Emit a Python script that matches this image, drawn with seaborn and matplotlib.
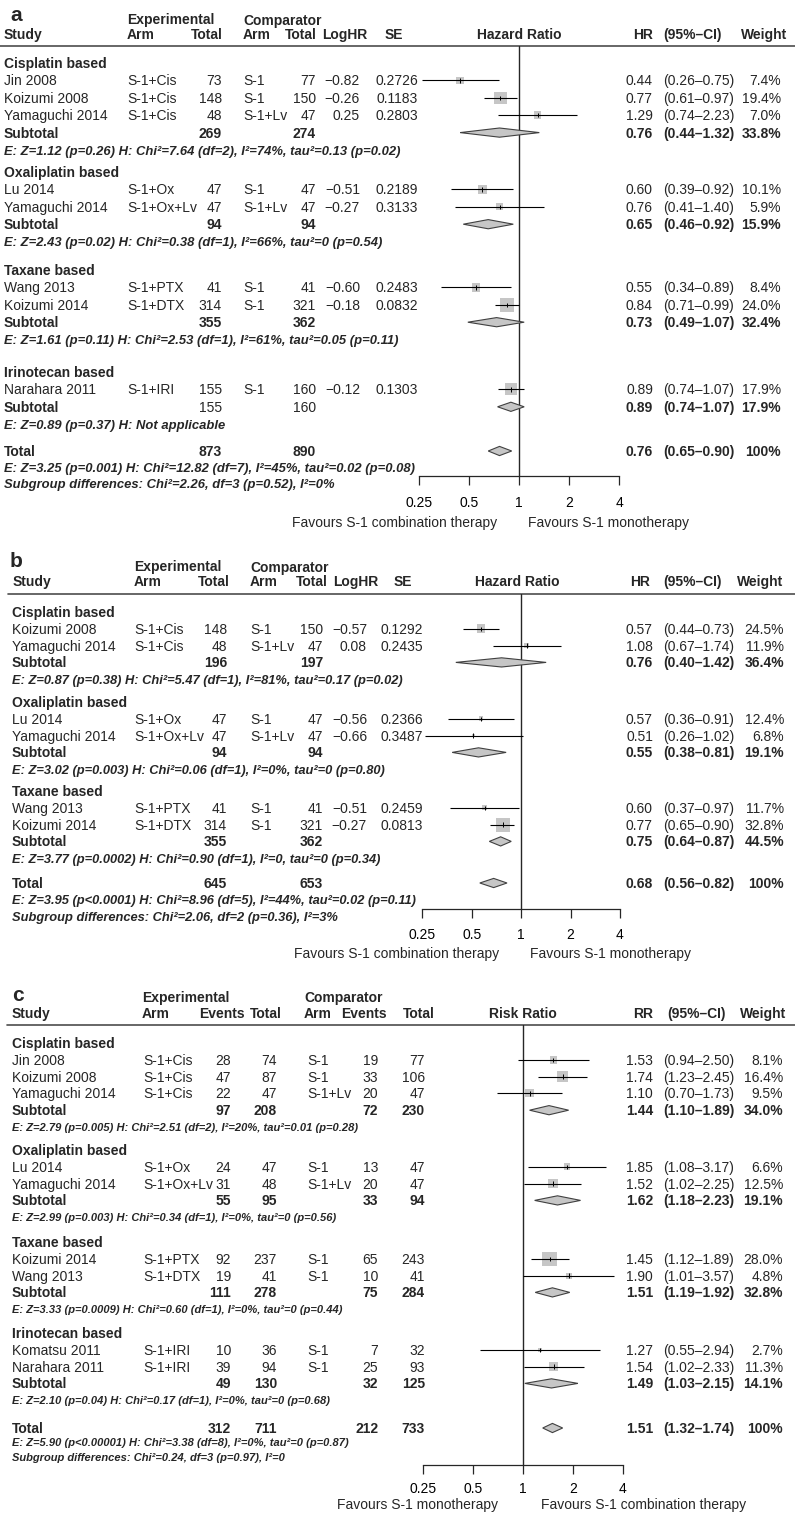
import numpy as np
import pandas as pd
import matplotlib
matplotlib.use("Agg")
import matplotlib.pyplot as plt
from matplotlib.ticker import NullLocator
import seaborn as sns

# ---------------- panel a : hazard ratio ----------------
a_groups = ["Cisplatin based", "Oxaliplatin based", "Taxane based", "Irinotecan based"]
a_group_n = [3, 2, 2, 1]
a_study = ["Jin 2008", "Koizumi 2008", "Yamaguchi 2014", "Lu 2014", "Yamaguchi 2014",
           "Wang 2013", "Koizumi 2014", "Narahara 2011"]
a_exp_arm = ["S-1+Cis", "S-1+Cis", "S-1+Cis", "S-1+Ox", "S-1+Ox+Lv", "S-1+PTX", "S-1+DTX", "S-1+IRI"]
a_exp_tot = [73, 148, 48, 47, 47, 41, 314, 155]
a_cmp_arm = ["S-1", "S-1", "S-1+Lv", "S-1", "S-1+Lv", "S-1", "S-1", "S-1"]
a_cmp_tot = [77, 150, 47, 47, 47, 41, 321, 160]
a_loghr = [-0.82, -0.26, 0.25, -0.51, -0.27, -0.60, -0.18, -0.12]
a_se = [0.2726, 0.1183, 0.2803, 0.2189, 0.3133, 0.2483, 0.0832, 0.1303]
a_hr = [0.44, 0.77, 1.29, 0.60, 0.76, 0.55, 0.84, 0.89]
a_lo = [0.26, 0.61, 0.74, 0.39, 0.41, 0.34, 0.71, 0.74]
a_hi = [0.75, 0.97, 2.23, 0.92, 1.40, 0.89, 0.99, 1.07]
a_w = [7.4, 19.4, 7.0, 10.1, 5.9, 8.4, 24.0, 17.9]
a_sub_exp = [269, 94, 355, 155]
a_sub_cmp = [274, 94, 362, 160]
a_sub_hr = [0.76, 0.65, 0.73, 0.89]
a_sub_lo = [0.44, 0.46, 0.49, 0.74]
a_sub_hi = [1.32, 0.92, 1.07, 1.07]
a_sub_w = [33.8, 15.9, 32.4, 17.9]
a_sub_het = ["E: Z=1.12 (p=0.26) H: Chi²=7.64 (df=2), I²=74%, tau²=0.13 (p=0.02)",
             "E: Z=2.43 (p=0.02) H: Chi²=0.38 (df=1), I²=66%, tau²=0 (p=0.54)",
             "E: Z=1.61 (p=0.11) H: Chi²=2.53 (df=1), I²=61%, tau²=0.05 (p=0.11)",
             "E: Z=0.89 (p=0.37) H: Not applicable"]
a_tot = [873, 890]
a_tot_hr = [0.76, 0.65, 0.90]
a_tot_het = ["E: Z=3.25 (p=0.001) H: Chi²=12.82 (df=7), I²=45%, tau²=0.02 (p=0.08)",
             "Subgroup differences: Chi²=2.26, df=3 (p=0.52), I²=0%"]

# ---------------- panel b : hazard ratio ----------------
b_groups = ["Cisplatin based", "Oxaliplatin based", "Taxane based"]
b_group_n = [2, 2, 2]
b_study = ["Koizumi 2008", "Yamaguchi 2014", "Lu 2014", "Yamaguchi 2014", "Wang 2013", "Koizumi 2014"]
b_exp_arm = ["S-1+Cis", "S-1+Cis", "S-1+Ox", "S-1+Ox+Lv", "S-1+PTX", "S-1+DTX"]
b_exp_tot = [148, 48, 47, 47, 41, 314]
b_cmp_arm = ["S-1", "S-1+Lv", "S-1", "S-1+Lv", "S-1", "S-1"]
b_cmp_tot = [150, 47, 47, 47, 41, 321]
b_loghr = [-0.57, 0.08, -0.56, -0.66, -0.51, -0.27]
b_se = [0.1292, 0.2435, 0.2366, 0.3487, 0.2459, 0.0813]
b_hr = [0.57, 1.08, 0.57, 0.51, 0.60, 0.77]
b_lo = [0.44, 0.67, 0.36, 0.26, 0.37, 0.65]
b_hi = [0.73, 1.74, 0.91, 1.02, 0.97, 0.90]
b_w = [24.5, 11.9, 12.4, 6.8, 11.7, 32.8]
b_sub_exp = [196, 94, 355]
b_sub_cmp = [197, 94, 362]
b_sub_hr = [0.76, 0.55, 0.75]
b_sub_lo = [0.40, 0.38, 0.64]
b_sub_hi = [1.42, 0.81, 0.87]
b_sub_w = [36.4, 19.1, 44.5]
b_sub_het = ["E: Z=0.87 (p=0.38) H: Chi²=5.47 (df=1), I²=81%, tau²=0.17 (p=0.02)",
             "E: Z=3.02 (p=0.003) H: Chi²=0.06 (df=1), I²=0%, tau²=0 (p=0.80)",
             "E: Z=3.77 (p=0.0002) H: Chi²=0.90 (df=1), I²=0, tau²=0 (p=0.34)"]
b_tot = [645, 653]
b_tot_hr = [0.68, 0.56, 0.82]
b_tot_het = ["E: Z=3.95 (p<0.0001) H: Chi²=8.96 (df=5), I²=44%, tau²=0.02 (p=0.11)",
             "Subgroup differences: Chi²=2.06, df=2 (p=0.36), I²=3%"]

# ---------------- panel c : risk ratio ----------------
c_groups = ["Cisplatin based", "Oxaliplatin based", "Taxane based", "Irinotecan based"]
c_group_n = [3, 2, 2, 2]
c_study = ["Jin 2008", "Koizumi 2008", "Yamaguchi 2014", "Lu 2014", "Yamaguchi 2014",
           "Koizumi 2014", "Wang 2013", "Komatsu 2011", "Narahara 2011"]
c_exp_arm = ["S-1+Cis", "S-1+Cis", "S-1+Cis", "S-1+Ox", "S-1+Ox+Lv", "S-1+PTX", "S-1+DTX", "S-1+IRI", "S-1+IRI"]
c_exp_ev = [28, 47, 22, 24, 31, 92, 19, 10, 39]
c_exp_tot = [74, 87, 47, 47, 48, 237, 41, 36, 94]
c_cmp_arm = ["S-1", "S-1", "S-1+Lv", "S-1", "S-1+Lv", "S-1", "S-1", "S-1", "S-1"]
c_cmp_ev = [19, 33, 20, 13, 20, 65, 10, 7, 25]
c_cmp_tot = [77, 106, 47, 47, 47, 243, 41, 32, 93]
c_rr = [1.53, 1.74, 1.10, 1.85, 1.52, 1.45, 1.90, 1.27, 1.54]
c_lo = [0.94, 1.23, 0.70, 1.08, 1.02, 1.12, 1.01, 0.55, 1.02]
c_hi = [2.50, 2.45, 1.73, 3.17, 2.25, 1.89, 3.57, 2.94, 2.33]
c_w = [8.1, 16.4, 9.5, 6.6, 12.5, 28.0, 4.8, 2.7, 11.3]
c_sub_exp_ev = [97, 55, 111, 49]
c_sub_exp = [208, 95, 278, 130]
c_sub_cmp_ev = [72, 33, 75, 32]
c_sub_cmp = [230, 94, 284, 125]
c_sub_rr = [1.44, 1.62, 1.51, 1.49]
c_sub_lo = [1.10, 1.18, 1.19, 1.03]
c_sub_hi = [1.89, 2.23, 1.92, 2.15]
c_sub_w = [34.0, 19.1, 32.8, 14.1]
c_sub_het = ["E: Z=2.79 (p=0.005) H: Chi²=2.51 (df=2), I²=20%, tau²=0.01 (p=0.28)",
             "E: Z=2.99 (p=0.003) H: Chi²=0.34 (df=1), I²=0%, tau²=0 (p=0.56)",
             "E: Z=3.33 (p=0.0009) H: Chi²=0.60 (df=1), I²=0%, tau²=0 (p=0.44)",
             "E: Z=2.10 (p=0.04) H: Chi²=0.17 (df=1), I²=0%, tau²=0 (p=0.68)"]
c_tot = [312, 711, 212, 733]
c_tot_rr = [1.51, 1.32, 1.74]
c_tot_het = ["E: Z=5.90 (p<0.00001) H: Chi²=3.38 (df=8), I²=0%, tau²=0 (p=0.87)",
             "Subgroup differences: Chi²=0.24, df=3 (p=0.97), I²=0"]

ticks = [0.25, 0.5, 1, 2, 4]
tick_labels = ["0.25", "0.5", "1", "2", "4"]

W, H = 795, 1514
FONT = ["Liberation Sans", "DejaVu Sans"]
BOX = "#c6c6c6"

sns.set_theme(style="white")
plt.rcParams["font.family"] = FONT

fig = plt.figure(figsize=(W / 100, H / 100), dpi=100)
bg = fig.add_axes([0, 0, 1, 1])
bg.set_xlim(0, W)
bg.set_ylim(H, 0)
bg.axis("off")


def txt(x, y, s, ha="left", size=10, weight="normal", style="normal"):
    # y is the visual centre of the cap height
    cap = size * 100 / 72 * 0.716
    bg.text(x, y + cap / 2, s, ha=ha, va="baseline", fontsize=size,
            fontweight=weight, fontstyle=style, family=FONT)


def num(v):
    return f"{v:.2f}".replace("-", "\u2212")


def ci(lo, hi):
    return f"({lo:.2f}\u2013{hi:.2f})"


def rows(heads, step, group_n):
    sy, suby, hety = [], [], []
    for h, n in zip(heads, group_n):
        sy += [h + step * (i + 1) for i in range(n)]
        suby.append(h + step * (n + 1))
        hety.append(h + step * (n + 2))
    return np.array(sy), np.array(suby), np.array(hety)


def forest(L, est, lo, hi, ys, side, dia):
    x0, x1 = L["x_quarter"], L["x_four"]
    top, bot = L["rule_y"], L["axis_y"]
    ax = fig.add_axes([x0 / W, 1 - bot / H, (x1 - x0) / W, (bot - top) / H])
    ax.set_facecolor("none")
    ax.set_xscale("log", base=2)
    df = pd.DataFrame({"est": est, "y": ys, "s": (np.asarray(side) * 0.72) ** 2})
    sns.scatterplot(data=df, x="est", y="y", marker="s", s=df["s"].to_numpy(), color=BOX,
                    linewidth=0, legend=False, ax=ax, zorder=2, clip_on=False)
    ax.hlines(ys, lo, hi, color="black", lw=0.8, zorder=3, clip_on=False)
    ax.vlines(est, ys - 2.3, ys + 2.3, color="black", lw=0.7, zorder=3)
    for e, l, h, y in dia:
        ax.fill([l, e, h, e], [y, y - 4.6, y, y + 4.6], facecolor=BOX,
                edgecolor="0.25", lw=0.8, zorder=3)
    ax.axvline(1, color="0.15", lw=1.0, zorder=1)
    ax.set_xlim(0.25, 4)
    ax.set_ylim(bot, top)
    ax.set_xticks(ticks)
    ax.set_xticklabels(tick_labels)
    ax.xaxis.set_minor_locator(NullLocator())
    ax.set_yticks([])
    ax.set(xlabel="", ylabel="")
    for sp in ["top", "left", "right"]:
        ax.spines[sp].set_visible(False)
    ax.spines["bottom"].set_color("0.15")
    ax.spines["bottom"].set_linewidth(0.9)
    ax.tick_params(axis="x", bottom=True, direction="out", length=6.5, width=0.9,
                   color="0.15", pad=L["tick_pad"], labelsize=10, labelcolor="black")
    for t in ax.get_xticklabels():
        t.set_family(FONT)


def draw_panel(L, D, kind):
    c = L["cols"]
    sy, suby, hety = rows(L["heads"], L["step"], D["group_n"])
    txt(L["letter"][1], L["letter"][2], L["letter"][0], size=15, weight="bold")
    for s, x, y, ha in L["header"]:
        txt(x, y, s, ha=ha, weight="bold")
    bg.plot([L["rule_x0"], W], [L["rule_y"]] * 2, color="0.3", lw=1.2)

    for g, y in zip(D["groups"], L["heads"]):
        txt(c["study"], y, g, weight="bold")
    for i, y in enumerate(sy):
        txt(c["study"], y, D["study"][i])
        txt(c["exp_arm"], y, D["exp_arm"][i])
        txt(c["exp_tot"], y, str(D["exp_tot"][i]), ha="right")
        txt(c["cmp_arm"], y, D["cmp_arm"][i])
        txt(c["cmp_tot"], y, str(D["cmp_tot"][i]), ha="right")
        if kind == "hr":
            txt(c["loghr"], y, num(D["loghr"][i]), ha="right")
            txt(c["se"], y, f"{D['se'][i]:.4f}", ha="right")
        else:
            txt(c["exp_ev"], y, str(D["exp_ev"][i]), ha="right")
            txt(c["cmp_ev"], y, str(D["cmp_ev"][i]), ha="right")
        txt(c["est"], y, num(D["est"][i]), ha="right")
        txt(c["ci"], y, ci(D["lo"][i], D["hi"][i]))
        txt(c["w"], y, f"{D['w'][i]:.1f}%", ha="right")

    for j, y in enumerate(suby):
        cw = "bold" if D["group_n"][j] > 1 else "normal"
        txt(c["study"], y, "Subtotal", weight="bold")
        txt(c["exp_tot"], y, str(D["sub_exp"][j]), ha="right", weight=cw)
        txt(c["cmp_tot"], y, str(D["sub_cmp"][j]), ha="right", weight=cw)
        if kind == "rr":
            txt(c["exp_ev"], y, str(D["sub_exp_ev"][j]), ha="right", weight=cw)
            txt(c["cmp_ev"], y, str(D["sub_cmp_ev"][j]), ha="right", weight=cw)
        txt(c["est"], y, num(D["sub_est"][j]), ha="right", weight="bold")
        txt(c["ci"], y, ci(D["sub_lo"][j], D["sub_hi"][j]), weight="bold")
        txt(c["w"], y, f"{D['sub_w'][j]:.1f}%", ha="right", weight="bold")
    for j, y in enumerate(hety):
        txt(c["study"], y, D["sub_het"][j], size=L["het_size"], weight="bold", style="italic")

    ty = L["total_y"]
    txt(c["study"], ty, "Total", weight="bold")
    if kind == "hr":
        txt(c["exp_tot"], ty, str(D["tot"][0]), ha="right", weight="bold")
        txt(c["cmp_tot"], ty, str(D["tot"][1]), ha="right", weight="bold")
    else:
        for key, v in zip(["exp_ev", "exp_tot", "cmp_ev", "cmp_tot"], D["tot"]):
            txt(c[key], ty, str(v), ha="right", weight="bold")
    te, tl, th = D["tot_est"]
    txt(c["est"], ty, num(te), ha="right", weight="bold")
    txt(c["ci"], ty, ci(tl, th), weight="bold")
    txt(c["w"], ty, "100%", ha="right", weight="bold")
    for k, s in enumerate(D["tot_het"]):
        txt(c["study"], ty + L["het_step"] * (k + 1), s, size=L["het_size"],
            weight="bold", style="italic")

    if kind == "hr":
        side = L["box_k"] * np.sqrt(D["w"]) if L["box_by"] == "w" else L["box_k"] / np.asarray(D["se"])
    else:
        side = L["box_k"] * np.sqrt(D["w"])
    dia = list(zip(D["sub_est"], D["sub_lo"], D["sub_hi"], suby)) + [(te, tl, th, ty)]
    forest(L, D["est"], D["lo"], D["hi"], sy, side, dia)

    txt(L["fav_left"][0], L["fav_y"], L["fav_left"][1], ha="right")
    txt(L["fav_right"][0], L["fav_y"], L["fav_right"][1])


a_D = dict(groups=a_groups, group_n=a_group_n, study=a_study, exp_arm=a_exp_arm, exp_tot=a_exp_tot,
           cmp_arm=a_cmp_arm, cmp_tot=a_cmp_tot, loghr=a_loghr, se=a_se, est=a_hr, lo=a_lo, hi=a_hi,
           w=a_w, sub_exp=a_sub_exp, sub_cmp=a_sub_cmp, sub_est=a_sub_hr, sub_lo=a_sub_lo,
           sub_hi=a_sub_hi, sub_w=a_sub_w, sub_het=a_sub_het, tot=a_tot, tot_est=a_tot_hr,
           tot_het=a_tot_het)
b_D = dict(groups=b_groups, group_n=b_group_n, study=b_study, exp_arm=b_exp_arm, exp_tot=b_exp_tot,
           cmp_arm=b_cmp_arm, cmp_tot=b_cmp_tot, loghr=b_loghr, se=b_se, est=b_hr, lo=b_lo, hi=b_hi,
           w=b_w, sub_exp=b_sub_exp, sub_cmp=b_sub_cmp, sub_est=b_sub_hr, sub_lo=b_sub_lo,
           sub_hi=b_sub_hi, sub_w=b_sub_w, sub_het=b_sub_het, tot=b_tot, tot_est=b_tot_hr,
           tot_het=b_tot_het)
c_D = dict(groups=c_groups, group_n=c_group_n, study=c_study, exp_arm=c_exp_arm, exp_ev=c_exp_ev,
           exp_tot=c_exp_tot, cmp_arm=c_cmp_arm, cmp_ev=c_cmp_ev, cmp_tot=c_cmp_tot, est=c_rr,
           lo=c_lo, hi=c_hi, w=c_w, sub_exp_ev=c_sub_exp_ev, sub_exp=c_sub_exp,
           sub_cmp_ev=c_sub_cmp_ev, sub_cmp=c_sub_cmp, sub_est=c_sub_rr, sub_lo=c_sub_lo,
           sub_hi=c_sub_hi, sub_w=c_sub_w, sub_het=c_sub_het, tot=c_tot, tot_est=c_tot_rr,
           tot_het=c_tot_het)

# layout (pixel positions)
a_L = dict(letter=("a", 10, 14), rule_y=46, rule_x0=0,
           header=[("Experimental", 127, 19, "left"), ("Comparator", 243, 20, "left"),
                   ("Study", 4, 34, "left"), ("Arm", 127, 34, "left"), ("Total", 223, 34, "right"),
                   ("Arm", 243, 34, "left"), ("Total", 317, 34, "right"), ("LogHR", 322, 34, "left"),
                   ("SE", 385, 34, "left"), ("Hazard Ratio", 519.5, 34, "center"),
                   ("HR", 653, 34, "right"), ("(95%\u2013CI)", 663, 34, "left"),
                   ("Weight", 787, 34, "right")],
           cols=dict(study=4, exp_arm=127, exp_tot=222, cmp_arm=243, cmp_tot=316, loghr=360,
                     se=418, est=653, ci=663, w=781),
           heads=[63, 172, 270, 372], step=17.4, total_y=451, het_step=16, het_size=9.4,
           x_quarter=419.3, x_four=619.3, axis_y=476, box_by="w", box_k=2.86, tick_pad=8,
           fav_y=522, fav_left=(497, "Favours S-1 combination therapy"),
           fav_right=(528, "Favours S-1 monotherapy"))
b_L = dict(letter=("b", 10, 560), rule_y=594, rule_x0=8,
           header=[("Experimental", 134, 566, "left"), ("Comparator", 250, 567, "left"),
                   ("Study", 13, 581, "left"), ("Arm", 134, 581, "left"), ("Total", 230, 581, "right"),
                   ("Arm", 250, 581, "left"), ("Total", 328, 581, "right"), ("LogHR", 333, 581, "left"),
                   ("SE", 394, 581, "left"), ("Hazard Ratio", 517, 581, "center"),
                   ("HR", 650, 581, "right"), ("(95%\u2013CI)", 663, 581, "left"),
                   ("Weight", 783, 581, "right")],
           cols=dict(study=12, exp_arm=134, exp_tot=227, cmp_arm=250, cmp_tot=323, loghr=367,
                     se=423, est=653, ci=663, w=784),
           heads=[612, 702, 791], step=16.8, total_y=883, het_step=16.5, het_size=9.3,
           x_quarter=422.3, x_four=620, axis_y=909, box_by="se", box_k=1.14, tick_pad=7.5,
           fav_y=953, fav_left=(499, "Favours S-1 combination therapy"),
           fav_right=(530, "Favours S-1 monotherapy"))
c_L = dict(letter=("c", 12, 994), rule_y=1025, rule_x0=7,
           header=[("Experimental", 142, 997, "left"), ("Comparator", 304, 997, "left"),
                   ("Study", 12, 1013, "left"), ("Arm", 142, 1013, "left"),
                   ("Events", 199, 1013, "left"), ("Total", 282, 1013, "right"),
                   ("Arm", 304, 1013, "left"), ("Events", 341, 1013, "left"),
                   ("Total", 435, 1013, "right"), ("Risk Ratio", 522.7, 1013, "center"),
                   ("RR", 653, 1013, "right"), ("(95%\u2013CI)", 667, 1013, "left"),
                   ("Weight", 786, 1013, "right")],
           cols=dict(study=12, exp_arm=143, exp_ev=231, exp_tot=277, cmp_arm=307, cmp_ev=378,
                     cmp_tot=425, est=653, ci=663, w=783),
           heads=[1043, 1150, 1242, 1333], step=16.8, total_y=1428, het_step=14.5, het_size=8.0,
           x_quarter=422.7, x_four=622.7, axis_y=1465, box_k=2.65, tick_pad=5.5,
           fav_y=1504, fav_left=(498, "Favours S-1 monotherapy"),
           fav_right=(541, "Favours S-1 combination therapy"))

draw_panel(a_L, a_D, "hr")
draw_panel(b_L, b_D, "hr")
draw_panel(c_L, c_D, "rr")

fig.savefig("out.png", dpi=100, facecolor="white")
